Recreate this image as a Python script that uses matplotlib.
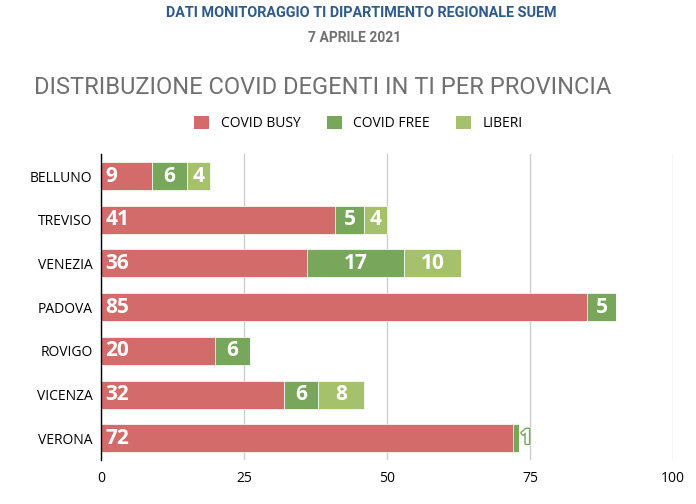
import matplotlib.pyplot as plt
import matplotlib.patheffects as pe
from matplotlib.patches import Patch

# --- data ---
provinces = ["BELLUNO", "TREVISO", "VENEZIA", "PADOVA", "ROVIGO", "VICENZA", "VERONA"]
covid_busy = [9, 41, 36, 85, 20, 32, 72]
covid_free = [6, 5, 17, 5, 6, 6, 1]
liberi = [4, 4, 10, 0, 0, 8, 0]
series_names = ["COVID BUSY", "COVID FREE", "LIBERI"]
colors = ["#D26B6A", "#78A65A", "#A6C16B"]

plt.rcParams["font.family"] = ["Open Sans", "DejaVu Sans"]

fig = plt.figure(figsize=(6.96, 5.04), dpi=100)
ax = fig.add_axes([0.145, 0.087, 0.822, 0.607])

y = list(range(len(provinces)))
left = [0] * len(provinces)
for vals, col in zip([covid_busy, covid_free, liberi], colors):
    ax.barh(y, vals, left=left, height=0.64, color=col,
            edgecolor="white", linewidth=0.5, zorder=3)
    for yi, l, v in zip(y, left, vals):
        if v == 0:
            continue
        if v >= 3:
            x = l + 0.8 if col == colors[0] else l + v / 2
            ha = "left" if col == colors[0] else "center"
            ax.text(x, yi, str(v), ha=ha, va="center", color="white",
                    fontsize=15, fontweight="bold", zorder=4)
        else:
            # too narrow for an inside label: outlined number just past the bar
            ax.text(l + v + 0.3, yi, str(v), ha="left", va="center", color="white",
                    fontsize=15, fontweight="bold", zorder=4,
                    path_effects=[pe.withStroke(linewidth=2, foreground=col)])
    left = [a + b for a, b in zip(left, vals)]

ax.set_ylim(len(provinces) - 0.5, -0.5)
ax.set_xlim(0, 100)
ax.set_xticks([0, 25, 50, 75, 100])
ax.set_yticks(y)
ax.set_yticklabels(provinces, fontsize=10)
ax.tick_params(axis="x", labelsize=10, length=0, pad=8)
ax.tick_params(axis="y", length=0, pad=6)
ax.grid(axis="x", color="#cccccc", linewidth=1, zorder=0)
for s in ["top", "right", "bottom"]:
    ax.spines[s].set_visible(False)
ax.spines["left"].set_color("black")
ax.spines["left"].set_linewidth(1)
ax.spines["left"].set_zorder(5)

fig.text(0.519, 0.975, "DATI MONITORAGGIO TI DIPARTIMENTO REGIONALE SUEM", ha="center",
         va="center", fontsize=10.4, fontweight="bold", color="#2E5B8C",
         family=["Roboto", "DejaVu Sans"])
fig.text(0.51, 0.925, "7 APRILE 2021", ha="center", va="center", fontsize=10,
         fontweight="bold", color="#707070", family=["Roboto", "DejaVu Sans"])
fig.text(0.464, 0.827, "DISTRIBUZIONE COVID DEGENTI IN TI PER PROVINCIA", ha="center",
         va="center", fontsize=17, color="#707070", family=["Roboto", "DejaVu Sans"])

handles = [Patch(facecolor=c, edgecolor="none") for c in colors]
fig.legend(handles, series_names, loc="center", bbox_to_anchor=(0.515, 0.755), ncol=3,
           frameon=False, fontsize=10, handlelength=1.1, handleheight=1.1,
           columnspacing=1.9, handletextpad=0.8)

fig.savefig("out.png", dpi=100)
